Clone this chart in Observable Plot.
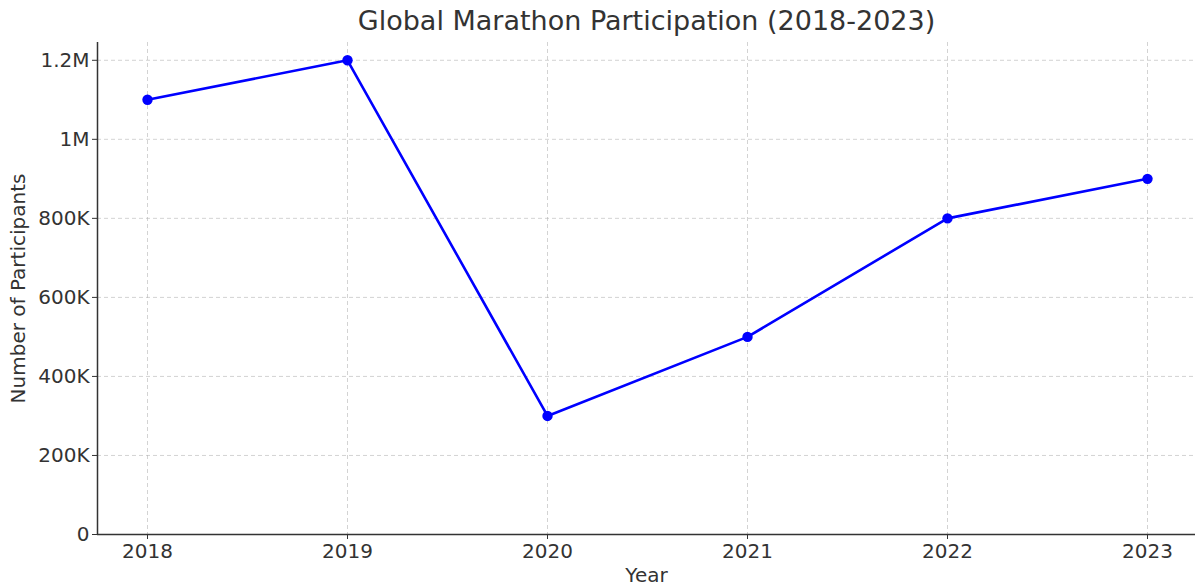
<!DOCTYPE html>
<html>
<head>
<meta charset="utf-8">
<script src="https://cdn.jsdelivr.net/npm/d3@7"></script>
<script src="https://cdn.jsdelivr.net/npm/@observablehq/plot@0.6"></script>
<style>
  html, body { margin: 0; padding: 0; background: #fff; }
  #chart { width: 1195px; height: 587px; overflow: hidden; }
</style>
</head>
<body>
<div id="chart"></div>
<script>
const years = [2018, 2019, 2020, 2021, 2022, 2023];
const participants = [1100000, 1200000, 300000, 500000, 800000, 900000];
const yTicks = [0, 200000, 400000, 600000, 800000, 1000000, 1200000];
const yTickLabels = ["0", "200K", "400K", "600K", "800K", "1M", "1.2M"];
const titleText = "Global Marathon Participation (2018-2023)";
const xLabel = "Year";
const yLabel = "Number of Participants";

const data = years.map((y, i) => ({year: y, value: participants[i]}));
const textColor = "#333333";
const gridStyle = {stroke: "#b0b0b0", strokeOpacity: 0.7, strokeDasharray: "4,3", strokeWidth: 0.8};

const chart = Plot.plot({
  width: 1195,
  height: 587,
  marginLeft: 97,
  marginRight: 0,
  marginTop: 42,
  marginBottom: 53,
  style: {fontFamily: "DejaVu Sans, sans-serif", fontSize: "20px", color: textColor, background: "#fff"},
  x: {domain: [2017.75, 2023.24]},
  y: {domain: [0, 1245000]},
  marks: [
    Plot.gridX(years, {...gridStyle}),
    Plot.gridY(yTicks, {...gridStyle}),
    Plot.ruleY([0], {stroke: "#333", strokeWidth: 1.5}),
    Plot.ruleX([2017.75], {stroke: "#333", strokeWidth: 1.5}),
    Plot.axisX(years, {tickSize: 5, tickFormat: d => String(d), tickPadding: 4, label: null, stroke: "#333", fill: textColor, fontSize: 20}),
    Plot.axisY(yTicks, {tickSize: 5, tickFormat: d => yTickLabels[yTicks.indexOf(d)], tickPadding: 3, label: null, stroke: "#333", fill: textColor, fontSize: 20}),
    Plot.line(data, {x: "year", y: "value", stroke: "#0000ff", strokeWidth: 2.6}),
    Plot.dot(data, {x: "year", y: "value", fill: "#0000ff", r: 5.2}),
    Plot.text([titleText], {frameAnchor: "top", dy: -21, lineAnchor: "middle", textAnchor: "middle", fontSize: 27, fill: textColor}),
    Plot.text([xLabel], {frameAnchor: "bottom", dy: 41, lineAnchor: "middle", textAnchor: "middle", fontSize: 20, fill: textColor}),
    Plot.text([yLabel], {frameAnchor: "left", dx: -79, rotate: -90, lineAnchor: "middle", textAnchor: "middle", fontSize: 20, fill: textColor})
  ]
});
document.getElementById("chart").appendChild(chart);
</script>
</body>
</html>
